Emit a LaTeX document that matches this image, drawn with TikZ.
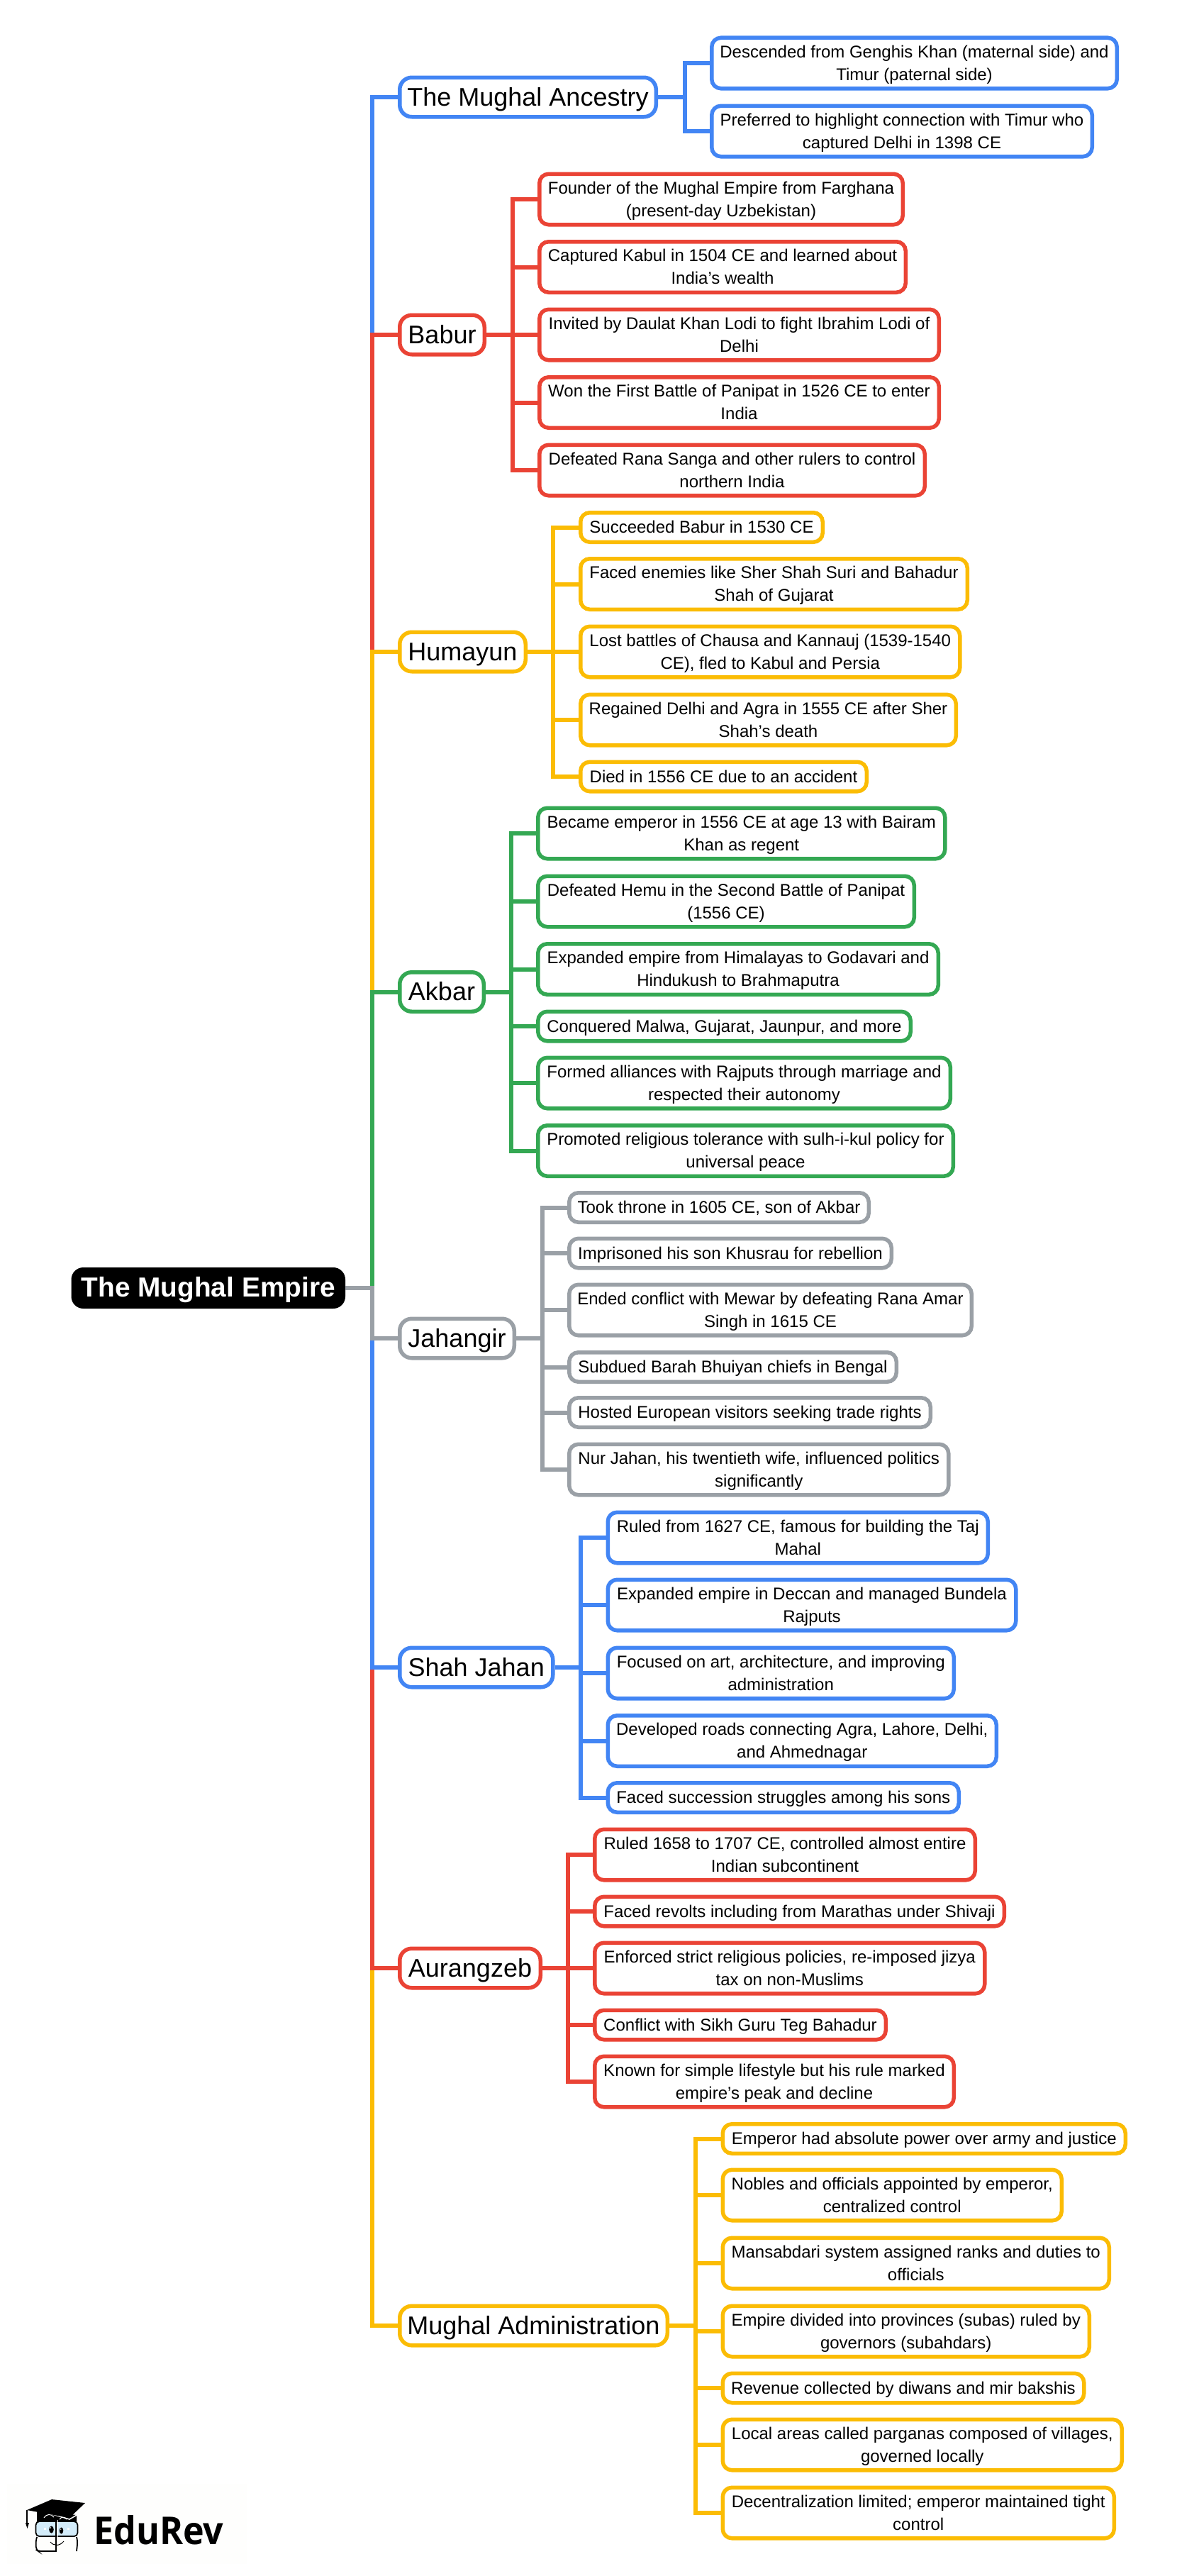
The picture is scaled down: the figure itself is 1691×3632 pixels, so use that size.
\documentclass[tikz,border=0pt]{standalone}
\usepackage{fontspec}
\usepackage{graphicx}
\setmainfont{Liberation Sans}
\newfontfamily\logofont{Open Sans}
\usetikzlibrary{calc}
\definecolor{cblue}{HTML}{4285F4}
\definecolor{cred}{HTML}{EA4335}
\definecolor{cyellow}{HTML}{FBBC04}
\definecolor{cgreen}{HTML}{34A853}
\definecolor{cgrey}{HTML}{9AA0A6}
\definecolor{logoblue}{HTML}{D3ECFA}
\definecolor{logobg}{HTML}{FEFEFD}
\newcommand{\leafstrut}{\rule[-8pt]{0pt}{32pt}}
\newcommand{\branchstrut}{\rule[-8pt]{0pt}{40pt}}
\tikzset{
  boxbase/.style={draw=#1,fill=white,line width=5.5pt,align=center,text=black,inner sep=0pt},
  leafbox/.style={boxbase=#1,rounded corners=13pt,font=\fontsize{24}{32}\selectfont},
  branchbox/.style={boxbase=#1,rounded corners=17pt,minimum height=55.5pt,font=\fontsize{36}{40}\selectfont},
  rootbox/.style={fill=black,text=white,rounded corners=17pt,inner sep=0pt,outer sep=0pt,font=\bfseries\fontsize{38.8}{40}\selectfont},
  link/.style={draw=#1,line width=6pt,miter limit=10},
}
% \leaf{name}{colour}{left}{right}{centre y}{lines}{text}
\newcommand{\leaf}[7]{%
  \pgfmathsetmacro{\lw}{#4-#3-5.5}%
  \pgfmathsetmacro{\lh}{(#6==1)?41.5:71.5}%
  \pgfmathsetmacro{\lx}{(#3+#4)/2}%
  \node[leafbox=#2,minimum width=\lw pt,minimum height=\lh pt] (#1) at (\lx,#5) {#7};%
}
\newcommand{\branch}[6]{%
  \pgfmathsetmacro{\lw}{#4-#3-5.5}%
  \pgfmathsetmacro{\lx}{(#3+#4)/2}%
  \node[branchbox=#2,minimum width=\lw pt] (#1) at (\lx,#5) {\branchstrut #6};%
}
\newcommand{\ls}{\leafstrut}
\begin{document}
\begin{tikzpicture}[x=1pt,y=-1pt]
\useasboundingbox (0,0) rectangle (1691,3632);
\fill[white] (0,0) rectangle (1691,3632);

% root
\node[rootbox,minimum width=386.5pt,minimum height=58pt] (root) at (293.75,1816) {\rule[-7pt]{0pt}{40pt}The Mughal Empire};
\coordinate (trunk) at (525,1816);

% branches
\branch{ancestry}{cblue}{561}{928}{137}{The Mughal Ancestry}
\branch{babur}{cred}{561}{686}{472}{Babur}
\branch{humayun}{cyellow}{561}{744}{919}{Humayun}
\branch{akbar}{cgreen}{561}{685}{1398.5}{Akbar}
\branch{jahangir}{cgrey}{561}{728}{1887}{Jahangir}
\branch{shahjahan}{cblue}{561}{782.5}{2351}{Shah Jahan}
\branch{aurangzeb}{cred}{561}{765}{2775}{Aurangzeb}
\branch{admin}{cyellow}{561}{944}{3279}{Mughal Administration}

% bus points
\coordinate (busA) at (966,137);
\coordinate (busB) at (722.5,472);
\coordinate (busC) at (780,919);
\coordinate (busD) at (720.5,1398.5);
\coordinate (busE) at (765,1887);
\coordinate (busF) at (819,2351);
\coordinate (busG) at (801,2775);
\coordinate (busH) at (981,3279);

% leaves
\leaf{a1}{cblue}{1001}{1578}{89}{2}{\ls Descended from Genghis Khan (maternal side) and\\\ls Timur (paternal side)}
\leaf{a2}{cblue}{1001}{1543}{185}{2}{\ls Preferred to highlight connection with Timur who\\\ls captured Delhi in 1398 CE}

\leaf{b1}{cred}{758}{1276}{281}{2}{\ls Founder of the Mughal Empire from Farghana\\\ls (present-day Uzbekistan)}
\leaf{b2}{cred}{758}{1280}{376.5}{2}{\ls Captured Kabul in 1504 CE and learned about\\\ls India's wealth}
\leaf{b3}{cred}{758}{1327}{472}{2}{\ls Invited by Daulat Khan Lodi to fight Ibrahim Lodi of\\\ls Delhi}
\leaf{b4}{cred}{758}{1327}{567.5}{2}{\ls Won the First Battle of Panipat in 1526 CE to enter\\\ls India}
\leaf{b5}{cred}{758}{1307}{663}{2}{\ls Defeated Rana Sanga and other rulers to control\\\ls northern India}

\leaf{c1}{cyellow}{816}{1163}{743.5}{1}{\ls Succeeded Babur in 1530 CE}
\leaf{c2}{cyellow}{816}{1367}{823.5}{2}{\ls Faced enemies like Sher Shah Suri and Bahadur\\\ls Shah of Gujarat}
\leaf{c3}{cyellow}{816}{1356.5}{919}{2}{\ls Lost battles of Chausa and Kannauj (1539-1540\\\ls CE), fled to Kabul and Persia}
\leaf{c4}{cyellow}{816}{1351}{1015}{2}{\ls Regained Delhi and Agra in 1555 CE after Sher\\\ls Shah's death}
\leaf{c5}{cyellow}{816}{1225}{1095}{1}{\ls Died in 1556 CE due to an accident}

\leaf{d1}{cgreen}{756}{1335.5}{1175}{2}{\ls Became emperor in 1556 CE at age 13 with Bairam\\\ls Khan as regent}
\leaf{d2}{cgreen}{756}{1292}{1271}{2}{\ls Defeated Hemu in the Second Battle of Panipat\\\ls (1556 CE)}
\leaf{d3}{cgreen}{756}{1326}{1366.5}{2}{\ls Expanded empire from Himalayas to Godavari and\\\ls Hindukush to Brahmaputra}
\leaf{d4}{cgreen}{756}{1287}{1447}{1}{\ls Conquered Malwa, Gujarat, Jaunpur, and more}
\leaf{d5}{cgreen}{756}{1343}{1527}{2}{\ls Formed alliances with Rajputs through marriage and\\\ls respected their autonomy}
\leaf{d6}{cgreen}{756}{1347}{1622.5}{2}{\ls Promoted religious tolerance with sulh-i-kul policy for\\\ls universal peace}

\leaf{e1}{cgrey}{800}{1228}{1702.5}{1}{\ls Took throne in 1605 CE, son of Akbar}
\leaf{e2}{cgrey}{800}{1260}{1767}{1}{\ls Imprisoned his son Khusrau for rebellion}
\leaf{e3}{cgrey}{800}{1373}{1847}{2}{\ls Ended conflict with Mewar by defeating Rana Amar\\\ls Singh in 1615 CE}
\leaf{e4}{cgrey}{800}{1267}{1927.5}{1}{\ls Subdued Barah Bhuiyan chiefs in Bengal}
\leaf{e5}{cgrey}{800}{1315}{1991.5}{1}{\ls Hosted European visitors seeking trade rights}
\leaf{e6}{cgrey}{800}{1340.5}{2072}{2}{\ls Nur Jahan, his twentieth wife, influenced politics\\\ls significantly}

\leaf{f1}{cblue}{854.5}{1396}{2168}{2}{\ls Ruled from 1627 CE, famous for building the Taj\\\ls Mahal}
\leaf{f2}{cblue}{854.5}{1435.5}{2263}{2}{\ls Expanded empire in Deccan and managed Bundela\\\ls Rajputs}
\leaf{f3}{cblue}{854.5}{1348}{2359}{2}{\ls Focused on art, architecture, and improving\\\ls administration}
\leaf{f4}{cblue}{854.5}{1408}{2454.5}{2}{\ls Developed roads connecting Agra, Lahore, Delhi,\\\ls and Ahmednagar}
\leaf{f5}{cblue}{854.5}{1355}{2534.5}{1}{\ls Faced succession struggles among his sons}

\leaf{g1}{cred}{836}{1378}{2615}{2}{\ls Ruled 1658 to 1707 CE, controlled almost entire\\\ls Indian subcontinent}
\leaf{g2}{cred}{836}{1419}{2695}{1}{\ls Faced revolts including from Marathas under Shivaji}
\leaf{g3}{cred}{836}{1391.5}{2775}{2}{\ls Enforced strict religious policies, re-imposed jizya\\\ls tax on non-Muslims}
\leaf{g4}{cred}{836}{1252}{2855}{1}{\ls Conflict with Sikh Guru Teg Bahadur}
\leaf{g5}{cred}{836}{1348}{2935}{2}{\ls Known for simple lifestyle but his rule marked\\\ls empire's peak and decline}

\leaf{h1}{cyellow}{1016.5}{1590}{3015.5}{1}{\ls Emperor had absolute power over army and justice}
\leaf{h2}{cyellow}{1016.5}{1500}{3095}{2}{\ls Nobles and officials appointed by emperor,\\\ls centralized control}
\leaf{h3}{cyellow}{1016.5}{1567}{3191}{2}{\ls Mansabdari system assigned ranks and duties to\\\ls officials}
\leaf{h4}{cyellow}{1016.5}{1539}{3287}{2}{\ls Empire divided into provinces (subas) ruled by\\\ls governors (subahdars)}
\leaf{h5}{cyellow}{1016.5}{1531.5}{3367}{1}{\ls Revenue collected by diwans and mir bakshis}
\leaf{h6}{cyellow}{1016.5}{1585}{3447}{2}{\ls Local areas called parganas composed of villages,\\\ls governed locally}
\leaf{h7}{cyellow}{1016.5}{1574}{3543}{2}{\ls Decentralization limited; emperor maintained tight\\\ls control}

% trunk: later drawings sit on top of earlier ones
\foreach \n/\c in {ancestry/cblue,babur/cred,humayun/cyellow,akbar/cgreen,admin/cyellow,aurangzeb/cred,shahjahan/cblue,jahangir/cgrey}
  \draw[link=\c] (trunk) |- (\n.west);
\draw[link=cgrey] (root.east) -- ([xshift=3pt]trunk);

% branch to leaves
\foreach \b/\n/\c/\list in {
  busA/ancestry/cblue/{a1,a2},
  busB/babur/cred/{b1,b2,b3,b4,b5},
  busC/humayun/cyellow/{c1,c2,c3,c4,c5},
  busD/akbar/cgreen/{d1,d2,d3,d4,d5,d6},
  busE/jahangir/cgrey/{e1,e2,e3,e4,e5,e6},
  busF/shahjahan/cblue/{f1,f2,f3,f4,f5},
  busG/aurangzeb/cred/{g1,g2,g3,g4,g5},
  busH/admin/cyellow/{h1,h2,h3,h4,h5,h6,h7}}{
  \draw[link=\c] (\n.east) -- (\b);
  \foreach \l in \list \draw[link=\c] (\b) |- (\l.west);
}

% logo
\fill[logobg] (10,3502) rectangle (348,3615);
\node[anchor=base west,inner sep=0pt,font=\logofont\bfseries\fontsize{54}{54}\selectfont] (edurev) at (132,3587) {\scalebox{.93}[1]{EduRev}};
% head band and cap
\fill[black] (52,3540) -- (108,3546) -- (108,3555) -- (52,3555) -- cycle;
\draw[white,line width=1pt] (62,3550) .. controls (66,3544) and (72,3544) .. (76,3549);
\draw[white,line width=1pt] (84,3552) .. controls (87,3548) and (91,3548) .. (94,3552);
\draw[white,line width=1.5pt] (50,3538) -- (98,3552) -- (110,3545);
\fill[black] (38,3539) -- (73,3524) -- (120,3529) -- (98,3550) -- cycle;
\draw[black,line width=1.2pt] (38,3539) -- (38,3557);
\fill[black] (36,3557) -- (41,3557) -- (38.5,3565) -- cycle;
% spectacles
\draw[black,fill=logoblue,line width=1.8pt,rounded corners=5pt] (50.5,3555) rectangle (109.5,3576);
\fill[white] (62,3564) rectangle (65,3567);
\fill[white] (95,3564) rectangle (98,3567);
% book below
\draw[black,line width=1.8pt,rounded corners=4pt] (52,3577) -- (50.5,3583) -- (51,3595) -- (54,3597) -- (78,3597);
\draw[black,line width=1.8pt,rounded corners=4pt] (108,3577) -- (109.5,3583) -- (108,3597);
\draw[black,line width=1.8pt] (79,3553) -- (79,3598);
\draw[white,line width=.9pt] (81,3553) -- (81,3598);
\fill[black] (72.5,3566.5) ellipse (3.3 and 5);
\fill[black] (86.5,3568) ellipse (2.8 and 4.5);
\fill[white] (71.5,3564) circle (.9);
\fill[white] (85.8,3566) circle (.8);
\draw[black,line width=1pt] (71,3584) .. controls (76,3590) and (84,3590) .. (90,3583);
\end{tikzpicture}
\end{document}
